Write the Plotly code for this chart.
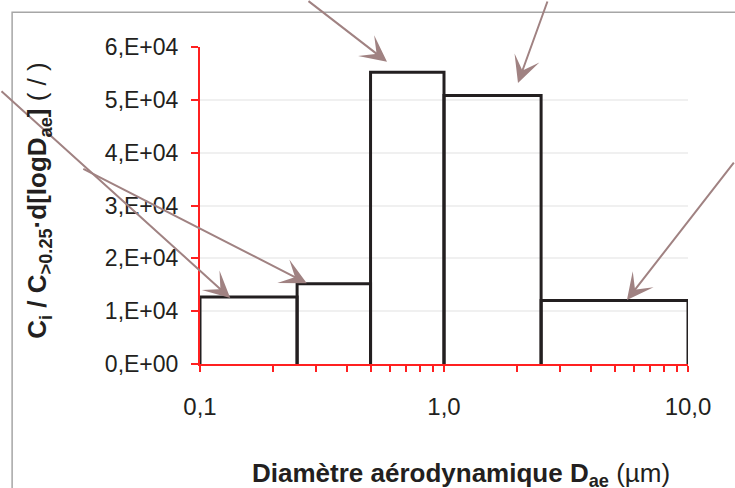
import math
import plotly.graph_objects as go

# size classes (µm) and normalised concentrations
bin_edges = [0.1, 0.25, 0.5, 1.0, 2.5, 10.0]
values = [12700, 15200, 55200, 50800, 12000]

x_ticks = [0.1, 1, 10]
x_ticktext = ["0,1", "1,0", "10,0"]
y_ticks = [0, 10000, 20000, 30000, 40000, 50000, 60000]
y_ticktext = ["0,E+00", "1,E+04", "2,E+04", "3,E+04", "4,E+04", "5,E+04", "6,E+04"]

# arrow tips (x µm, y) and tail offsets in pixels
arrow_tips = [(0.133, 12500), (0.274, 15300), (0.584, 57200), (2.01, 53200), (5.62, 12100)]
arrow_tails = [(-235, -208), (-225, -115), (-80, -67), (30, -92), (118, -139)]

RED = "#ff2020"
INK = "#231f20"
FONT = "Liberation Sans, Arial, sans-serif"

# outline of the histogram bars
xs, ys = [], []
for lo, hi, v in zip(bin_edges[:-1], bin_edges[1:], values):
    xs += [lo, lo, hi, hi, None]
    ys += [0, v, v, 0, None]

fig = go.Figure()
fig.add_trace(go.Scatter(
    x=xs, y=ys, mode="lines",
    line=dict(color=INK, width=3),
    connectgaps=False, hoverinfo="skip", showlegend=False,
))

fig.update_xaxes(
    type="log", range=[-1, 1],
    tickvals=x_ticks, ticktext=x_ticktext,
    showline=True, linecolor=RED, linewidth=2,
    ticks="outside", ticklen=6, tickcolor=RED, tickwidth=1.5,
    minor=dict(dtick="D1", ticks="outside", ticklen=6, tickcolor=RED, tickwidth=1.5, showgrid=False),
    showgrid=False, zeroline=False,
    tickfont=dict(family=FONT, size=24, color=INK),
    ticklabelstandoff=14,
)
fig.update_yaxes(
    range=[0, 60000],
    tickvals=y_ticks, ticktext=y_ticktext,
    showline=True, linecolor=RED, linewidth=2,
    ticks="outside", ticklen=7, tickcolor=RED, tickwidth=1.5,
    showgrid=True, gridcolor="#f0f0f0", gridwidth=1.5,
    zeroline=False,
    tickfont=dict(family=FONT, size=23, color=INK),
    ticklabelstandoff=8,
)

annotations = []
for (tx, ty), (ax, ay) in zip(arrow_tips, arrow_tails):
    annotations.append(dict(
        x=math.log10(tx), y=ty, xref="x", yref="y",
        ax=ax, ay=ay, axref="pixel", ayref="pixel",
        text="", showarrow=True, arrowhead=3, arrowsize=2.2,
        arrowwidth=2, arrowcolor="#a08282", standoff=0,
    ))

annotations.append(dict(
    text="<b>C<sub>i</sub> / C<sub>>0.25</sub>·d[logD<sub>ae</sub>]</b> ( / )",
    textangle=-90, xref="paper", yref="paper", x=-0.33, y=0.515,
    xanchor="center", yanchor="middle", showarrow=False,
    font=dict(family=FONT, size=26, color=INK),
))
annotations.append(dict(
    text="<b>Diamètre aérodynamique D<sub>ae</sub></b> (µm)",
    xref="paper", yref="paper", x=0.535, y=-0.348,
    xanchor="center", yanchor="middle", showarrow=False,
    font=dict(family=FONT, size=26, color=INK),
))

fig.update_layout(
    width=735, height=488,
    margin=dict(l=200, r=47, t=47, b=124),
    paper_bgcolor="white", plot_bgcolor="white",
    annotations=annotations,
    shapes=[dict(type="rect", xref="paper", yref="paper",
                 x0=-0.385, x1=1.2, y0=-0.6, y1=1.11,
                 line=dict(color="#a6a6a6", width=1.5), layer="below")],
)

# drop the default 8 px page margin so the figure fills the window
fig.write_html("out.html", config={"displayModeBar": False},
               post_script="document.body.style.margin='0';")
